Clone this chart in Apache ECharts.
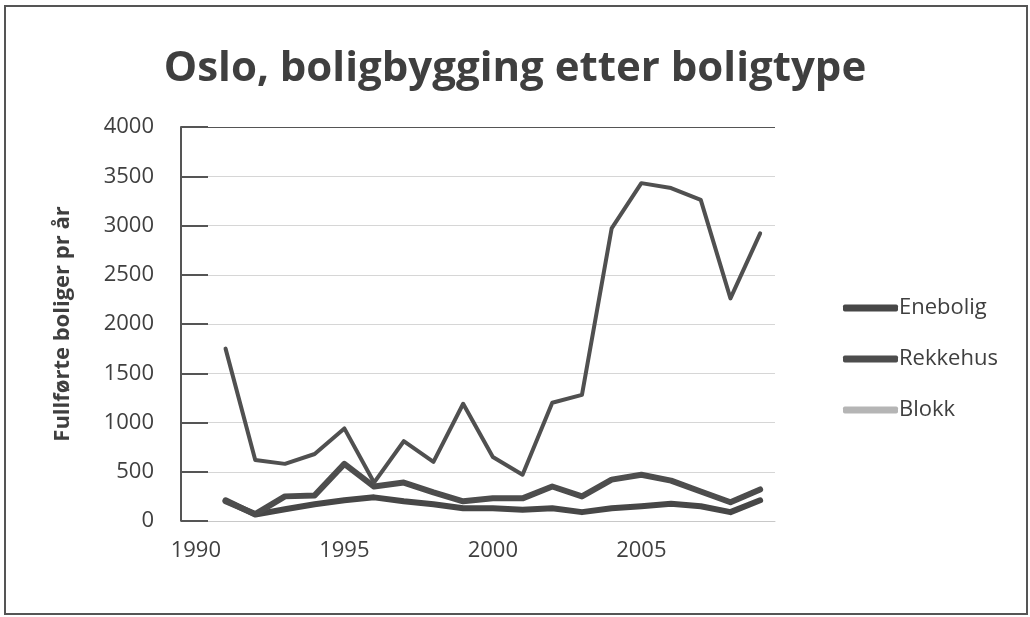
<!DOCTYPE html>
<html>
<head>
<meta charset="utf-8">
<script src="https://cdn.jsdelivr.net/npm/echarts@6/dist/echarts.min.js"></script>
<style>
html,body{margin:0;padding:0;background:#fff;}
#chart{width:1030px;height:617px;}
</style>
</head>
<body>
<div id="chart"></div>
<script>
const years = ['1990','1991','1992','1993','1994','1995','1996','1997','1998','1999','2000','2001','2002','2003','2004','2005','2006','2007','2008','2009'];
const enebolig = [null,210,65,120,170,210,240,200,170,130,130,115,130,90,130,150,175,150,90,210];
const rekkehus = [null,200,70,250,260,580,350,390,290,200,230,230,350,250,420,470,410,300,190,320];
const blokk    = [null,1750,620,580,680,940,390,810,600,1190,650,470,1200,1280,2970,3430,3380,3260,2260,2920];
const yTicks = [0,500,1000,1500,2000,2500,3000,3500,4000];

const FONT = 'Open Sans';
const chart = echarts.init(document.getElementById('chart'));
chart.setOption({
  animation:false,
  backgroundColor:'#fff',
  title:{
    text:'Oslo, boligbygging etter boligtype',
    left:'center', top:43,
    textStyle:{fontFamily:FONT,fontWeight:'bold',fontSize:42,color:'#3f3f3f'}
  },
  graphic:[{type:'rect',shape:{x:5,y:6,width:1022,height:608},style:{fill:null,stroke:'#555',lineWidth:2},silent:true}],
  legend:{
    orient:'vertical', left:838, top:292, itemGap:29,
    itemWidth:55, itemHeight:7, icon:'roundRect',
    textStyle:{fontFamily:FONT,fontSize:22,color:'#3f3f3f',padding:[0,0,0,-4]},
    data:[
      {name:'Enebolig',itemStyle:{color:'#474747'}},
      {name:'Rekkehus',itemStyle:{color:'#4d4d4d'}},
      {name:'Blokk',itemStyle:{color:'#b5b5b5'}}
    ]
  },
  grid:{left:181,right:255,top:127,bottom:96,containLabel:false},
  xAxis:{
    type:'category', data:years, boundaryGap:true,
    axisLine:{show:true,lineStyle:{color:'#c8c8c8',width:1}},
    axisTick:{show:false},
    axisLabel:{interval:4,margin:19,fontFamily:FONT,fontSize:22,color:'#3f3f3f'},
    splitLine:{show:false}
  },
  yAxis:{
    type:'value', min:yTicks[0], max:yTicks[yTicks.length-1], interval:500,
    name:'Fullførte boliger pr år', nameLocation:'middle', nameGap:107, nameRotate:90,
    nameTextStyle:{fontFamily:FONT,fontWeight:'bold',fontSize:22,color:'#3f3f3f'},
    axisLine:{show:true,lineStyle:{color:'#555',width:2}},
    axisTick:{show:true,inside:true,length:27,lineStyle:{color:'#555',width:2}},
    axisLabel:{margin:27,fontFamily:FONT,fontSize:22,color:'#3f3f3f',formatter:function(v){return String(v);}},
    splitLine:{show:true,lineStyle:{color:['#d6d6d6','#d6d6d6','#d6d6d6','#d6d6d6','#d6d6d6','#d6d6d6','#d6d6d6','#d6d6d6','#555'],width:1}}
  },
  series:[
    {name:'Enebolig',type:'line',data:enebolig,symbol:'none',connectNulls:false,
     lineStyle:{color:'#474747',width:6,join:'round',cap:'round'},itemStyle:{color:'#474747'}},
    {name:'Rekkehus',type:'line',data:rekkehus,symbol:'none',
     lineStyle:{color:'#4d4d4d',width:6,join:'round',cap:'round'},itemStyle:{color:'#4d4d4d'}},
    {name:'Blokk',type:'line',data:blokk,symbol:'none',
     lineStyle:{color:'#505050',width:4,join:'round',cap:'round'},itemStyle:{color:'#b5b5b5'}}
  ]
});
</script>
</body>
</html>
